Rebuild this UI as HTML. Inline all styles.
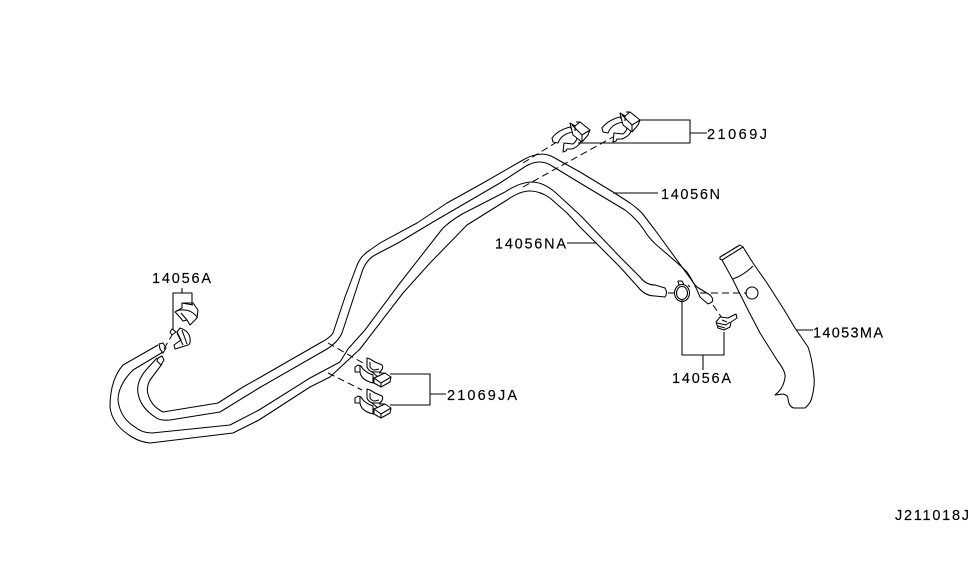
<!DOCTYPE html>
<html><head><meta charset="utf-8"><style>
html,body{margin:0;padding:0;background:#fff}
svg{display:block}
text{font-family:"Liberation Sans",sans-serif;font-size:14.5px;fill:#000;stroke:#000;stroke-width:.15}
.l{fill:none;stroke:#000;stroke-width:1.05;stroke-linejoin:round}
.w{fill:#fff;stroke:#000;stroke-width:1.05;stroke-linejoin:round}
.d{fill:none;stroke:#000;stroke-width:1;stroke-dasharray:7 4}
</style></head><body>
<svg width="975" height="566" viewBox="0 0 975 566" xmlns="http://www.w3.org/2000/svg">
<rect width="975" height="566" fill="#fff"/>
<!-- 14056N tube -->
<path class="l" d="M157,358 L146,370 Q136,382 138,393 Q140,407 155,417 Q160,421 170,420 L220,412 L259,388 L327,349 Q338,342 342,333 L362,272 Q366,260 375,255 L398,243 L433,222 L500,183 L526,166 Q540,158 552,166 L580,183 L625,210 Q636,218 644,230 Q650,240 660,248 Q680,265 687,272 Q694,282 700,297 L708,304"/>
<path class="l" d="M162,364 L150,380 Q146,388 148,394 Q151,406 163,412 L218,403 L243,387 L259,378 L320,343 Q330,338 333,333 L345,297 L356,268 Q360,256 370,250 L380,243 L417,223 L447,203 L483,183 L523,160 Q540,150 553,157 L580,172 L613,192 L630,203 Q637,208 642,213 L655,230 L690,278 Q694,284 697,287 L710,295 Q714,299 712,302 L708,304"/>
<!-- 14056NA tube -->
<path class="l" d="M158,345 L123,365 Q110,380 110,407 Q112,425 132,437 Q140,442 150,443 L233,433 L259,420 L310,387 L330,377 L360,349 L403,293 L430,263 L467,225 L507,200 Q520,191 530,191 Q540,191 550,198 L567,213 L580,227 L620,267 L638,287 Q645,296 655,296 L665,297 Q668,293 665,288 L655,285 Q646,285 640,277 L620,257 L580,215 L556,193 Q545,183 533,182 Q520,182 505,192 L470,210 Q455,217 443,228 L400,283 L365,330 L348,349 L340,362 L310,378 L259,410 L230,425 L152,433 Q142,433 135,427 Q120,418 118,400 Q118,385 133,370 L163,352"/>
<path class="w" d="M159,344 L163,343 L166,348 L163,353 L160,349 Z M158,358 L162,356 L164,360 L161,365 L157,361 Z"/>
<!-- dashed -->
<path class="d" d="M328,343 L363,363 M328,373 L362,390 M523,163 L560,140 M523,187 L613,137 M700,293 L747,293 M713,305 L722,318 M164,349 L172,335"/>
<path class="l" d="M668,293 H674"/>
<!-- filler tube -->
<path class="l" d="M722,260 L733,280 L748,310 L760,333 L777,360 Q786,372 785,377 Q784,388 775,395 L783,394 Q788,395 788,399 Q789,407 794,408 L805,408 Q811,403 812,397 Q815,385 814,377 Q812,358 808,347 L795,328 L783,308 L767,283 L753,263 L743,247"/>
<path class="l" d="M720,257 L720,259 L722,260 L743,247 L740,245 Z M722,256 L738,246 M733,279 Q744,275 753,266"/>
<circle class="l" cx="752" cy="293" r="6"/>
<!-- ring clamp -->
<ellipse class="w" cx="682" cy="293" rx="7.5" ry="8.5"/>
<ellipse class="l" cx="682" cy="293" rx="5.5" ry="6.5"/>
<path class="l" d="M679,285 L678,281 L682,281 L684,285 M688,285 L690,287"/>
<!-- right small clamp -->
<path class="w" d="M716,322 L720,317 L728,318 L736,314 L737,318 L731,322 L730,327 L724,330 L718,328 Z"/>
<path class="l" d="M717,323 L726,325 L730,322 M722,320 L727,322 M718,326 L725,328"/>
<!-- left small clamps -->
<path class="w" d="M175,312 L182,308 L182,303 L193,303 L198,310 L197,318 L190,325 L187,320 L183,321 L178,315 Z"/>
<path class="l" d="M176,311 Q186,308 193,313 Q197,316 197,318 M181,313 L187,320 M182,303 L193,305"/>
<path class="w" d="M180,328 Q189,331 190,338 Q191,344 188,345 L175,349 L174,345 L181,340 L177,332 Z"/>
<path class="l" d="M177,333 L183,345 M182,330 L187,344"/>
<path class="w" d="M172,329 L176,332 L172,335 L170,332 Z"/>
<!-- JA clips -->
<g id="c1">
<path class="w" d="M355,367 L355,372 L360,372 Q361,380 373,383 L373,375 Q364,372 361,366 L358,365 Z"/>
<path class="l" d="M360,366 V372"/>
<path class="w" d="M367,358 L367,367 Q369,372 374,372 L380,372 Q384,368 382,365 L375,362 L370,359 Z"/>
<path class="l" d="M370,362 L370,367 Q372,370 375,370 L379,369"/>
<path class="w" d="M374,378 L385,373 L391,377 L390,382 L381,387 L374,383 Z"/>
<path class="l" d="M374,378 L381,383 L391,377 M381,383 V387 M379,373 L385,373 M372,372 L378,377"/>
</g>
<use href="#c1" y="31"/>
<!-- J clips -->
<g id="c2">
<path class="w" d="M603,132 L602,128 Q608,120 620,117 L624,122 Q612,123 608,133 Z"/>
<path class="w" d="M613,142 L614,133 L623,134 Q627,131 627,127 L631,128 Q632,135 622,139 L617,139 L616,141 Z"/>
<path class="w" d="M620,113 L625,116 L630,112 L640,120 L638,125 L632,132 L623,125 Z"/>
<path class="l" d="M622,115 L632,125 L640,120 M632,125 V132 M625,116 V121 M626,112 L630,112"/>
</g>
<use href="#c2" x="-50" y="10"/>
<!-- leaders -->
<path class="l" d="M640,120 H690 V143 H578 M690,133 H707"/>
<path class="l" d="M613,193 H658 M567,243 H597 M796,330 H813"/>
<path class="l" d="M390,374 H430 V405 H390 M430,394 H446"/>
<path class="l" d="M182,288 V293 M173,330 V293 H192 V305"/>
<path class="l" d="M682,300 V355 H724 V332 M703,355 V370"/>
<!-- labels -->
<text x="707" y="139" textLength="60">21069J</text>
<text x="661" y="199" textLength="59">14056N</text>
<text x="495" y="248.500" textLength="71">14056NA</text>
<text x="152" y="283" textLength="59">14056A</text>
<text x="672" y="383" textLength="59">14056A</text>
<text x="813" y="337.500" textLength="70">14053MA</text>
<text x="447" y="400" textLength="70">21069JA</text>
<text x="895" y="520" textLength="74">J211018J</text>
</svg>
</body></html>
